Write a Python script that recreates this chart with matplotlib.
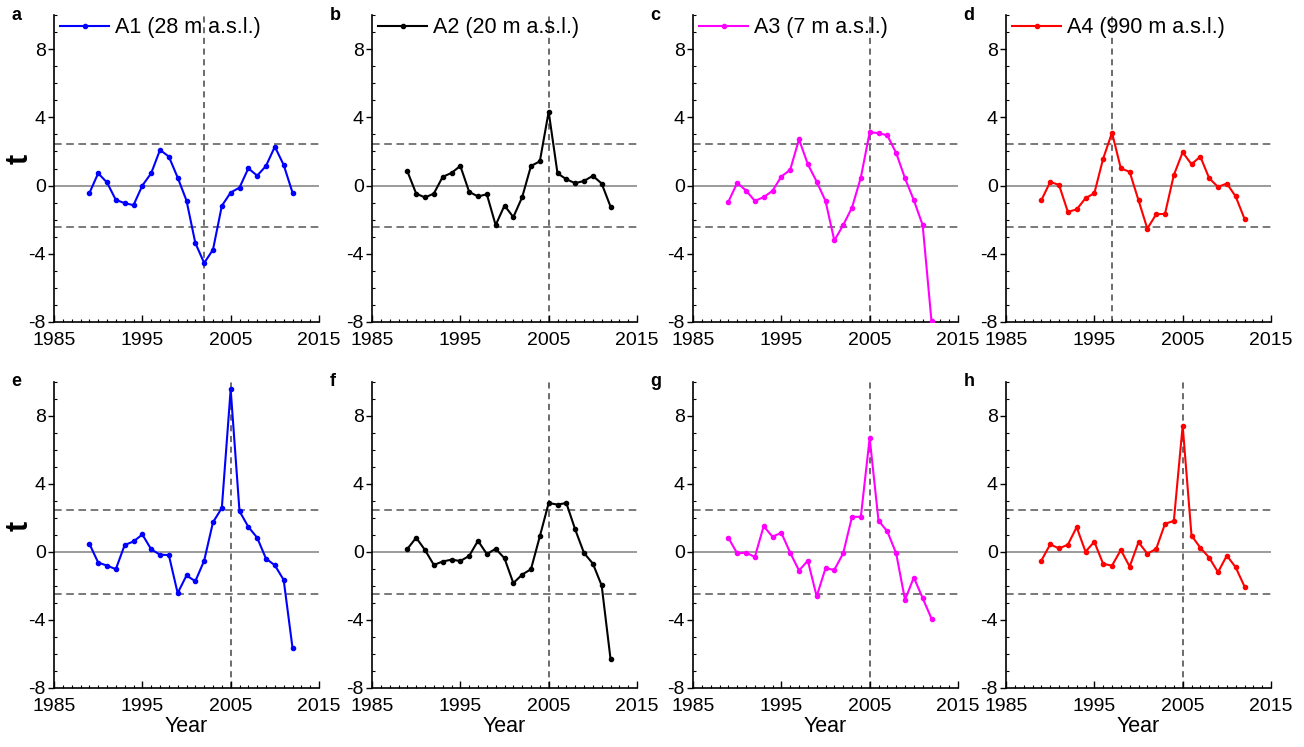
import matplotlib
matplotlib.use("Agg")
import matplotlib.pyplot as plt
from matplotlib.ticker import MultipleLocator

plt.rcParams['font.family'] = ['Liberation Sans', 'DejaVu Sans']
plt.rcParams['axes.unicode_minus'] = False

years = list(range(1989, 2013))

a1_top = [-0.45, 0.72, 0.18, -0.84, -1.03, -1.15, 0.0, 0.72, 2.09, 1.70, 0.47, -0.88,
          -3.37, -4.54, -3.76, -1.19, -0.41, -0.12, 1.01, 0.58, 1.15, 2.28, 1.21, -0.41]
a2_top = [0.84, -0.47, -0.70, -0.47, 0.51, 0.74, 1.15, -0.37, -0.64, -0.51, -2.32, -1.17,
          -1.85, -0.68, 1.15, 1.42, 4.33, 0.72, 0.37, 0.14, 0.27, 0.57, 0.12, -1.23]
a3_top = [-0.96, 0.16, -0.29, -0.90, -0.68, -0.31, 0.53, 0.92, 2.71, 1.25, 0.23, -0.90,
          -3.22, -2.32, -1.29, 0.47, 3.12, 3.08, 2.94, 1.91, 0.43, -0.86, -2.32, -7.95]
a4_top = [-0.86, 0.21, 0.04, -1.54, -1.40, -0.74, -0.45, 1.58, 3.10, 1.01, 0.80, -0.86,
          -2.53, -1.68, -1.66, 0.62, 1.95, 1.25, 1.70, 0.43, -0.08, 0.12, -0.64, -1.95]

a1_bot = [0.49, -0.62, -0.80, -1.01, 0.41, 0.62, 1.03, 0.16, -0.16, -0.18, -2.42, -1.38,
          -1.72, -0.51, 1.75, 2.59, 9.57, 2.40, 1.48, 0.84, -0.39, -0.78, -1.64, -5.63]
a2_bot = [0.18, 0.84, 0.12, -0.76, -0.56, -0.45, -0.53, -0.23, 0.66, -0.12, 0.19, -0.37,
          -1.83, -1.33, -1.01, 0.92, 2.88, 2.79, 2.88, 1.33, -0.06, -0.68, -1.97, -6.28]
a3_bot = [0.84, -0.08, -0.04, -0.29, 1.52, 0.90, 1.13, -0.04, -1.09, -0.51, -2.61, -0.96,
          -1.05, -0.08, 2.07, 2.07, 6.71, 1.85, 1.21, -0.08, -2.81, -1.50, -2.71, -3.92]
a4_bot = [-0.51, 0.45, 0.21, 0.43, 1.46, 0.02, 0.60, -0.70, -0.80, 0.12, -0.86, 0.58,
          -0.10, 0.18, 1.66, 1.83, 7.43, 0.97, 0.25, -0.33, -1.19, -0.21, -0.90, -2.03]

labels = ["A1 (28 m a.s.l.)", "A2 (20 m a.s.l.)", "A3 (7 m a.s.l.)", "A4 (990 m a.s.l.)"]
colors = ["#0000FF", "#000000", "#FF00FF", "#FF0000"]
panel_letters = ["a", "b", "c", "d", "e", "f", "g", "h"]
change_years = [2002, 2005, 2005, 1997, 2005, 2005, 2005, 2005]
threshold = 2.45
xticks = [1985, 1995, 2005, 2015]
yticks = [-8, -4, 0, 4, 8]

top_series = [a1_top, a2_top, a3_top, a4_top]
bot_series = [a1_bot, a2_bot, a3_bot, a4_bot]

W, H = 1304, 747
fig = plt.figure(figsize=(W / 100, H / 100), dpi=100)

lefts = [54, 372, 693, 1006]
width = 265
rows = [(15, 322), (382, 688)]

for r, (ytop, ybot) in enumerate(rows):
    series = top_series if r == 0 else bot_series
    for c in range(4):
        idx = r * 4 + c
        ax = fig.add_axes([lefts[c] / W, 1 - ybot / H, width / W, (ybot - ytop) / H])
        ax.set_xlim(1985, 2015)
        ax.set_ylim(-8, 10)
        for s in ['top', 'right']:
            ax.spines[s].set_visible(False)
        for s in ['left', 'bottom']:
            ax.spines[s].set_linewidth(1.2)
        ax.axhline(0, color='#808080', lw=1.1, zorder=1)
        ax.axhline(threshold, color='#555555', lw=1.1, ls=(0, (5, 3)), zorder=1)
        ax.axhline(-threshold, color='#555555', lw=1.1, ls=(0, (5, 3)), zorder=1)
        ax.axvline(change_years[idx], color='#444444', lw=1.1, ls=(0, (4, 3)), zorder=1)
        ax.plot(years, series[c], color=colors[c], lw=1.5, marker='o',
                markersize=3, zorder=3, label=labels[c])
        ax.set_xticks(xticks)
        ax.set_yticks(yticks)
        ax.xaxis.set_minor_locator(MultipleLocator(1))
        ax.yaxis.set_minor_locator(MultipleLocator(1))
        ax.tick_params(axis='x', which='major', direction='in', length=5, width=1.0,
                       labelsize=14, pad=7, colors='black')
        ax.tick_params(axis='x', which='minor', direction='in', length=2.5, width=0.8)
        ax.tick_params(axis='y', which='major', direction='out', length=4, width=1.0,
                       labelsize=14, pad=2)
        ax.tick_params(axis='y', which='minor', direction='in', length=2.5, width=0.8)
        ax.set_facecolor('none')
        ax.text(-0.16, 1.0, panel_letters[idx], transform=ax.transAxes,
                fontsize=13, fontweight='bold', ha='left', va='center')
        if r == 0:
            ax.legend(loc='upper left', bbox_to_anchor=(-0.01, 1.02), frameon=False,
                      fontsize=15.5, handlelength=2.3, handletextpad=0.25,
                      borderaxespad=0.0)
        else:
            ax.set_xlabel("Year", fontsize=15.5, labelpad=1)
        if c == 0:
            ax.set_ylabel("t", fontsize=22, fontweight='bold')
            ax.yaxis.set_label_coords(-0.075, 0.53)

fig.savefig("out.png", dpi=100)
